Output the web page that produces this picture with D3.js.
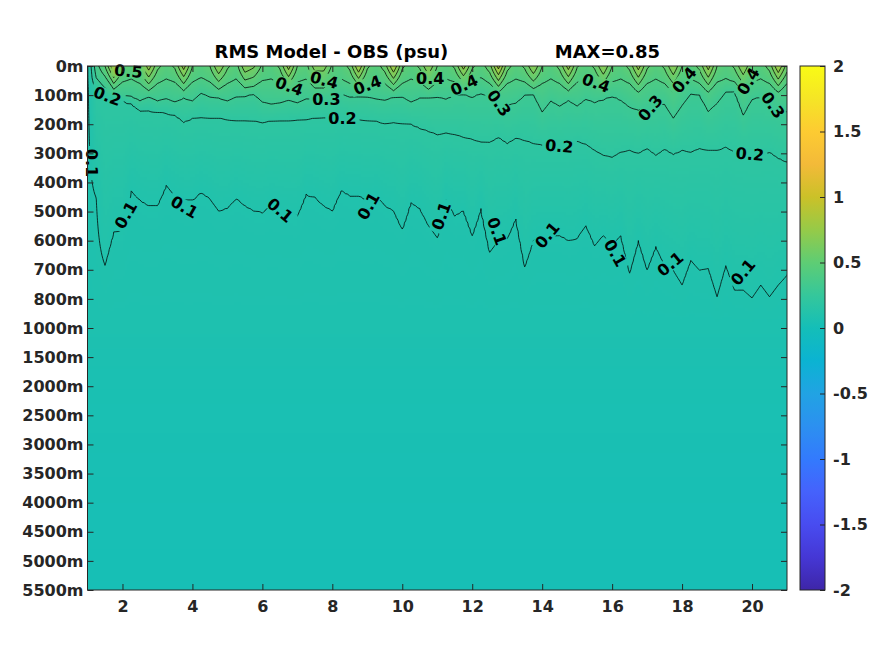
<!DOCTYPE html>
<html>
<head>
<meta charset="utf-8">
<script src="https://cdn.jsdelivr.net/npm/d3@7"></script>
<style>
body { margin: 0; background: #fff; }
text { font-family: "DejaVu Sans", sans-serif; font-weight: bold; }
</style>
</head>
<body>
<div id="vis"></div>
<script>
// depth levels shown on the y axis (evenly spaced, like the level index)
const DEPTHS = [0, 100, 200, 300, 400, 500, 600, 700, 800, 1000, 1500, 2000, 2500, 3000, 3500, 4000, 4500, 5000, 5500];
const X_TICKS = [2, 4, 6, 8, 10, 12, 14, 16, 18, 20];
const CB_TICKS = [-2, -1.5, -1, -0.5, 0, 0.5, 1, 1.5, 2];
const LEVELS = [0.1, 0.2, 0.3, 0.4, 0.5, 0.6, 0.7, 0.8];

// columns start at x=1, one every 0.25
const X_START = 1;
const X_STEP = 0.25;

// RMS value at 0m for each column
const SURFACE = [0.09, 0.36, 0.50, 0.80, 0.52, 0.46, 0.54, 0.76, 0.53, 0.45,
                 0.52, 0.75, 0.50, 0.44, 0.50, 0.70, 0.52, 0.45, 0.68, 0.62,
                 0.48, 0.44, 0.52, 0.75, 0.50, 0.46, 0.66, 0.66, 0.48, 0.44,
                 0.53, 0.80, 0.52, 0.45, 0.55, 0.80, 0.52, 0.45, 0.52, 0.70,
                 0.50, 0.44, 0.52, 0.75, 0.52, 0.45, 0.56, 0.85, 0.54, 0.45,
                 0.52, 0.70, 0.50, 0.44, 0.53, 0.75, 0.51, 0.45, 0.52, 0.70,
                 0.50, 0.45, 0.53, 0.75, 0.52, 0.45, 0.52, 0.70, 0.50, 0.45,
                 0.53, 0.75, 0.50, 0.44, 0.52, 0.70, 0.50, 0.45, 0.54, 0.80, 0.55];

// depth (m) where each column crosses 0.4, 0.3, 0.2 and 0.1 psu
const ISO_04 = [null, null, 35, 80, 55, 45, 60, 85, 60, 45,
                55, 85, 55, 40, 55, 80, 60, 45, 75, 70,
                50, 45, 60, 85, 55, 45, 75, 75, 55, 45,
                60, 85, 60, 45, 60, 85, 60, 45, 55, 80,
                55, 45, 55, 78, 55, 40, 60, 90, 60, 45,
                55, 78, 60, 45, 60, 85, 55, 45, 60, 85,
                55, 45, 60, 90, 60, 45, 60, 90, 55, 45,
                60, 90, 55, 45, 55, 90, 55, 45, 60, 90, 60];

const ISO_03 = [null, 41, 76, 96, 103, 106, 120, 106, 120, 113,
                124, 110, 120, 93, 106, 110, 120, 106, 103, 96,
                124, 131, 127, 117, 127, 113, 113, 113, 110, 96,
                106, 103, 106, 113, 117, 106, 106, 124, 110, 110,
                106, 113, 100, 96, 106, 93, 106, 124, 134, 127,
                100, 96, 158, 120, 137, 117, 137, 113, 124, 113,
                103, 117, 141, 151, 144, 131, 131, 179, 134, 93,
                100, 155, 127, 89, 86, 168, 113, 106, 131, 144, 158];

const ISO_02 = [null, 82, 103, 113, 117, 130, 151, 151, 158, 161,
                168, 192, 179, 175, 179, 179, 182, 186, 186, 189,
                192, 189, 186, 186, 182, 182, 179, 175, 175, 175,
                179, 182, 186, 189, 196, 192, 196, 199, 213, 223,
                234, 230, 234, 244, 251, 261, 261, 244, 265, 247,
                254, 265, 271, 271, 271, 268, 258, 268, 289, 306,
                313, 295, 289, 299, 282, 306, 285, 302, 289, 295,
                282, 289, 289, 278, 295, 299, 302, 306, 295, 316, 330];

const ISO_01 = [null, 453, 684, 570, 563, 426, 460, 478, 478, 409,
                443, 460, 460, 433, 453, 495, 488, 453, 478, 495,
                502, 478, 495, 502, 512, 440, 450, 478, 495, 426,
                443, 443, 460, 443, 478, 495, 560, 467, 488, 546,
                590, 460, 512, 495, 581, 488, 640, 600, 591, 522,
                690, 598, 581, 581, 581, 598, 591, 546, 615, 581,
                615, 581, 711, 598, 700, 620, 684, 701, 752, 666,
                701, 694, 793, 684, 770, 770, 797, 752, 793, 752, 718];

// values below the thermocline, same for every column
const DEEP_DEPTHS = [1000, 1500, 2000, 2500, 3000, 3500, 4000, 4500, 5000, 5500];
const DEEP_VALUES = [0.075, 0.06, 0.05, 0.045, 0.04, 0.035, 0.03, 0.03, 0.025, 0.02];

// contour labels: text, x, depth (m), angle
const LABEL_TEXT = ["0.5", "0.2", "0.1", "0.4", "0.4", "0.3", "0.2", "0.4", "0.4", "0.4",
                    "0.3", "0.4", "0.3", "0.4", "0.4", "0.3", "0.2", "0.2", "0.1", "0.1",
                    "0.1", "0.1", "0.1", "0.1", "0.1", "0.1", "0.1", "0.1"];
const LABEL_X = [2.17, 1.57, 1.11, 6.77, 7.77, 7.83, 8.29, 9.0, 10.8, 11.77,
                 12.77, 15.54, 17.09, 18.06, 19.89, 20.6, 14.49, 19.94, 2.09, 3.77,
                 6.51, 9.03, 11.11, 12.71, 14.14, 16.09, 17.66, 19.74];
const LABEL_DEPTH = [17, 103, 333, 69, 48, 113, 179, 65, 41, 65,
                     127, 58, 144, 48, 52, 134, 275, 302, 512, 484,
                     495, 481, 515, 567, 581, 642, 680, 708];
const LABEL_ANGLE = [5, 20, 90, 20, 15, 0, 0, -20, 0, -25,
                     55, 20, -50, -50, -60, 55, 5, 5, -60, 30,
                     40, -60, -70, 70, -50, 60, -40, -50];

// parula colormap
const PARULA = ["#3e26a8", "#4537d5", "#484cf0", "#4562fc", "#337afd", "#2c90f0",
                "#21a3e3", "#0bb3d2", "#14beb8", "#35c79b", "#5ecd74", "#96ca48",
                "#cbc128", "#f3ba39", "#fdcb32", "#f5e526", "#f9fb15"];

const FRAME_WIDTH = 875;
const FRAME_HEIGHT = 656;
const PLOT = {left: 87.5, right: 787, top: 66, bottom: 590};
const CBAR = {left: 800, right: 825};
const INK = "#262626";

const svg = d3.select("#vis").append("svg")
    .attr("width", FRAME_WIDTH)
    .attr("height", FRAME_HEIGHT);
const defs = svg.append("defs");

const X_SCALE = d3.scaleLinear().domain([1, 21]).range([PLOT.left, PLOT.right]);
const ROW_PX = (PLOT.bottom - PLOT.top) / (DEPTHS.length - 1);
const Y_SCALE = d3.scaleLinear()
    .domain(DEPTHS)
    .range(DEPTHS.map((d, i) => PLOT.top + i * ROW_PX));
const IDX_TO_DEPTH = d3.scaleLinear().domain(d3.range(DEPTHS.length)).range(DEPTHS);
const DEPTH_TO_IDX = d3.scaleLinear().domain(DEPTHS).range(d3.range(DEPTHS.length));
const COLOR = d3.scaleLinear()
    .domain(PARULA.map((c, i) => -2 + 4 * i / (PARULA.length - 1)))
    .range(PARULA)
    .interpolate(d3.interpolateRgb)
    .clamp(true);

// vertical profile of one column, in level-index space
const ISO = [[ISO_04, 0.4], [ISO_03, 0.3], [ISO_02, 0.2], [ISO_01, 0.1]];
function profile(s, zs) {
    const knots = [[0, s]];
    ISO.forEach(([arr, lev], k) => {
        if (zs[k] != null && lev < s) knots.push([zs[k], lev]);
    });
    DEEP_DEPTHS.forEach((d, k) => knots.push([d, DEEP_VALUES[k]]));
    return d3.scaleLinear()
        .domain(knots.map(k => DEPTH_TO_IDX(k[0])))
        .range(knots.map(k => k[1]))
        .clamp(true);
}
const colZ = i => ISO.map(([arr]) => arr[i]);
const sameShape = (a, b) => ISO.every(([arr, lev]) =>
    arr[a] != null && arr[b] != null && (lev < SURFACE[a]) === (lev < SURFACE[b]));

// render grid: each data column split in SUB steps so isolines run straight between columns
const NX = SURFACE.length;
const SUB = 4;
const NXF = (NX - 1) * SUB + 1;
const FX_STEP = X_STEP / SUB;
const ROW_STEP = 0.1;
const NY = Math.round((DEPTHS.length - 1) / ROW_STEP) + 1;
const grid = new Array(NXF * NY);
for (let f = 0; f < NXF; f++) {
    const a = Math.min(Math.floor(f / SUB), NX - 2);
    const t = f / SUB - a;
    let prof;
    if (t === 0 || sameShape(a, a + 1)) {
        const s = SURFACE[a] + t * (SURFACE[a + 1] - SURFACE[a]);
        const za = colZ(a), zb = colZ(a + 1);
        prof = profile(s, za.map((z, k) => z == null ? null : z + t * (zb[k] - z)));
    } else {
        const pa = profile(SURFACE[a], colZ(a));
        const pb = profile(SURFACE[a + 1], colZ(a + 1));
        prof = y => pa(y) + t * (pb(y) - pa(y));
    }
    for (let j = 0; j < NY; j++) grid[f + j * NXF] = prof(j * ROW_STEP);
}

defs.append("clipPath").attr("id", "plotclip")
  .append("rect")
    .attr("x", PLOT.left).attr("y", PLOT.top)
    .attr("width", PLOT.right - PLOT.left)
    .attr("height", PLOT.bottom - PLOT.top);

// shaded field, drawn from a small canvas and smoothed by the browser
const canvas = document.createElement("canvas");
canvas.width = NXF;
canvas.height = NY;
const ctx = canvas.getContext("2d");
const img = ctx.createImageData(NXF, NY);
for (let k = 0; k < NXF * NY; k++) {
    const c = d3.rgb(COLOR(grid[k]));
    img.data[4 * k] = c.r;
    img.data[4 * k + 1] = c.g;
    img.data[4 * k + 2] = c.b;
    img.data[4 * k + 3] = 255;
}
ctx.putImageData(img, 0, 0);

const gx0 = X_SCALE(X_START - FX_STEP / 2);
const gx1 = X_SCALE(X_START + (NXF - 0.5) * FX_STEP);
const gy0 = Y_SCALE(IDX_TO_DEPTH(-ROW_STEP / 2));
const gy1 = Y_SCALE(IDX_TO_DEPTH((NY - 0.5) * ROW_STEP));

const FIELD = svg.append("g").attr("clip-path", "url(#plotclip)");
FIELD.append("image")
    .attr("href", canvas.toDataURL())
    .attr("x", gx0).attr("y", gy0)
    .attr("width", gx1 - gx0).attr("height", gy1 - gy0)
    .attr("preserveAspectRatio", "none");

// contour lines
const contours = d3.contours().size([NXF, NY]).thresholds(LEVELS)(grid);
const toScreen = d3.geoTransform({
    point: function(gx, gy) {
        this.stream.point(X_SCALE(X_START + (gx - 0.5) * FX_STEP),
                          Y_SCALE(IDX_TO_DEPTH((gy - 0.5) * ROW_STEP)));
    }
});
const contourPath = d3.geoPath(toScreen);

const mask = defs.append("mask").attr("id", "labelmask")
    .attr("maskUnits", "userSpaceOnUse")
    .attr("x", 0).attr("y", 0).attr("width", FRAME_WIDTH).attr("height", FRAME_HEIGHT);
mask.append("rect")
    .attr("width", FRAME_WIDTH).attr("height", FRAME_HEIGHT)
    .attr("fill", "white");

FIELD.append("g")
    .attr("mask", "url(#labelmask)")
  .selectAll("path")
  .data(contours)
  .enter()
  .append("path")
    .attr("d", contourPath)
    .attr("fill", "none")
    .attr("stroke", "#000")
    .attr("stroke-width", 0.75)
    .attr("stroke-linejoin", "round");

// contour labels
const labels = LABEL_TEXT.map((t, i) => ({t: t, x: LABEL_X[i], d: LABEL_DEPTH[i], r: LABEL_ANGLE[i]}));
const LABELS = svg.append("g");
LABELS.selectAll("text")
  .data(labels)
  .enter()
  .append("text")
    .attr("transform", d => "translate(" + X_SCALE(d.x) + "," + Y_SCALE(d.d) + ") rotate(" + d.r + ")")
    .attr("text-anchor", "middle")
    .attr("dy", "0.36em")
    .attr("font-size", "16px")
    .attr("fill", "#000")
    .text(d => d.t)
    .each(function(d) { d.w = this.getComputedTextLength(); });

mask.selectAll(".hole")
  .data(labels)
  .enter()
  .append("rect")
    .attr("class", "hole")
    .attr("transform", d => "translate(" + X_SCALE(d.x) + "," + Y_SCALE(d.d) + ") rotate(" + d.r + ")")
    .attr("x", d => -d.w / 2 - 3)
    .attr("y", -7)
    .attr("width", d => d.w + 6)
    .attr("height", 14)
    .attr("fill", "black");

// axes, ticks on all four sides pointing inward
function styleAxis(g, showText) {
    g.select(".domain").remove();
    g.selectAll(".tick line").attr("stroke", INK);
    g.selectAll(".tick text")
        .attr("fill", INK)
        .attr("font-size", "16px")
        .attr("font-family", "DejaVu Sans")
        .attr("font-weight", "bold");
    if (!showText) g.selectAll(".tick text").remove();
}

svg.append("g")
    .attr("transform", "translate(" + PLOT.left + ",0)")
    .call(d3.axisLeft(Y_SCALE).tickValues(DEPTHS).tickFormat(d => d + "m")
        .tickSizeInner(-6).tickSizeOuter(0).tickPadding(4))
    .call(g => styleAxis(g, true));

svg.append("g")
    .attr("transform", "translate(" + PLOT.right + ",0)")
    .call(d3.axisRight(Y_SCALE).tickValues(DEPTHS).tickSizeInner(-6).tickSizeOuter(0))
    .call(g => styleAxis(g, false));

svg.append("g")
    .attr("transform", "translate(0," + PLOT.bottom + ")")
    .call(d3.axisBottom(X_SCALE).tickValues(X_TICKS).tickFormat(d3.format("d"))
        .tickSizeInner(-6).tickSizeOuter(0).tickPadding(11))
    .call(g => styleAxis(g, true));

svg.append("g")
    .attr("transform", "translate(0," + PLOT.top + ")")
    .call(d3.axisTop(X_SCALE).tickValues(X_TICKS).tickSizeInner(-6).tickSizeOuter(0))
    .call(g => styleAxis(g, false));

svg.append("rect")
    .attr("x", PLOT.left).attr("y", PLOT.top)
    .attr("width", PLOT.right - PLOT.left)
    .attr("height", PLOT.bottom - PLOT.top)
    .attr("fill", "none")
    .attr("stroke", INK)
    .attr("stroke-width", 1);

// title
svg.append("text")
    .attr("x", (PLOT.left + PLOT.right) / 2)
    .attr("y", 58)
    .attr("text-anchor", "middle")
    .attr("font-size", "18px")
    .attr("fill", "#000")
    .style("white-space", "pre")
    .text("RMS Model - OBS (psu)" + " ".repeat(17) + "MAX=0.85");

// colorbar
const CB_SCALE = d3.scaleLinear().domain([-2, 2]).range([PLOT.bottom, PLOT.top]);
const grad = defs.append("linearGradient")
    .attr("id", "cbgrad")
    .attr("x1", 0).attr("y1", 1).attr("x2", 0).attr("y2", 0);
grad.selectAll("stop")
  .data(PARULA)
  .enter()
  .append("stop")
    .attr("offset", (d, i) => i / (PARULA.length - 1))
    .attr("stop-color", d => d);

svg.append("rect")
    .attr("x", CBAR.left).attr("y", CB_SCALE(2))
    .attr("width", CBAR.right - CBAR.left)
    .attr("height", CB_SCALE(-2) - CB_SCALE(2))
    .attr("fill", "url(#cbgrad)")
    .attr("stroke", INK)
    .attr("stroke-width", 1);

svg.append("g")
    .attr("transform", "translate(" + CBAR.right + ",0)")
    .call(d3.axisRight(CB_SCALE).tickValues(CB_TICKS).tickFormat(d => d)
        .tickSizeInner(-5).tickSizeOuter(0).tickPadding(8))
    .call(g => styleAxis(g, true));
</script>
</body>
</html>
